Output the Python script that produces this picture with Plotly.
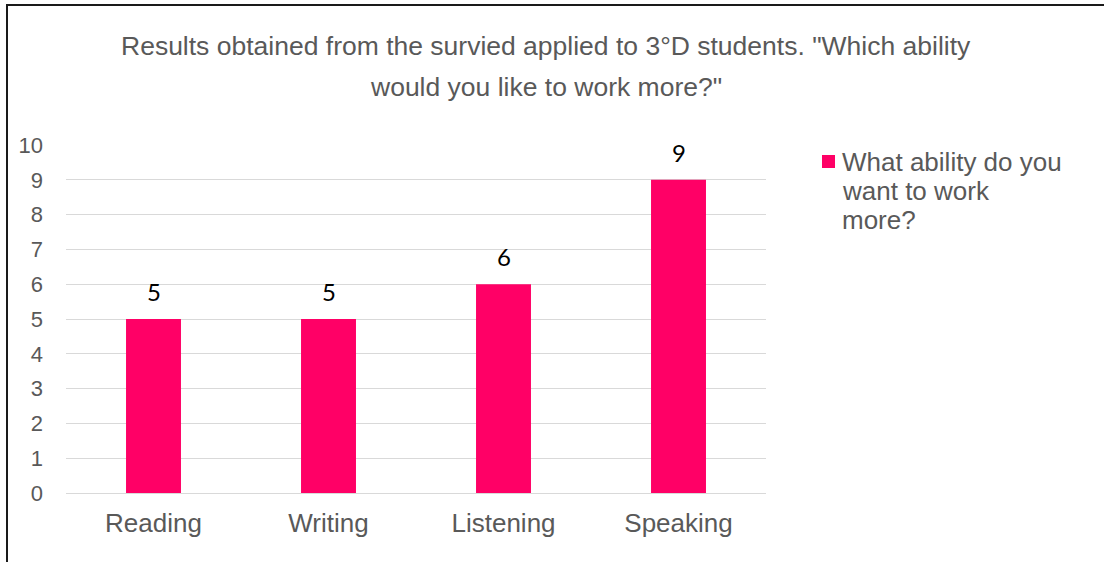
import plotly.graph_objects as go

# Survey results: which ability students would like to work on more
abilities = ["Reading", "Writing", "Listening", "Speaking"]
votes = [5, 5, 6, 9]
y_ticks = list(range(0, 11))
series_name = "What ability do you want to work more?"
legend_lines = ["What ability do you", "want to work", "more?"]
title_lines = [
    "Results obtained from the survied applied to 3°D students. \"Which ability",
    "would you like to work more?\"",
]

W, H = 1104, 562
L, R, T, B = 66, 338, 145, 69
PW, PH = W - L - R, H - T - B

def px_x(px):
    return (px - L) / PW

def px_y(py):
    return 1 - (py - T) / PH

GRAY = "#595959"
PINK = "#FF0066"
FONT = "Liberation Sans, Arial, sans-serif"

fig = go.Figure()
fig.add_trace(go.Bar(
    x=abilities, y=votes, name=series_name,
    marker=dict(color=PINK, line=dict(width=0)),
    showlegend=False,
))

# value labels above each bar
for cat, v in zip(abilities, votes):
    fig.add_annotation(
        x=cat, y=v, xref="x", yref="y", text=str(v), showarrow=False,
        yanchor="bottom", yshift=11,
        font=dict(family="Lato, Liberation Sans, sans-serif", size=24, color="#000000"),
    )

# two-line chart title, centred
for line, cy in zip(title_lines, [46, 87]):
    fig.add_annotation(
        x=px_x(546), y=px_y(cy), xref="paper", yref="paper", showarrow=False,
        text=line, xanchor="center", yanchor="middle",
        font=dict(family=FONT, size=26.5, color=GRAY),
    )

# legend: swatch plus wrapped series name
fig.add_shape(
    type="rect", xref="paper", yref="paper",
    x0=px_x(822), x1=px_x(835), y0=px_y(168), y1=px_y(155),
    fillcolor=PINK, line=dict(width=0),
)
for line, cy in zip(legend_lines, [162, 191, 220]):
    fig.add_annotation(
        x=px_x(840), y=px_y(cy), xref="paper", yref="paper", showarrow=False,
        text=line, xanchor="left", yanchor="middle",
        font=dict(family=FONT, size=26, color=GRAY),
    )

# outer frame (left and top edges)
fig.add_shape(
    type="path", xref="paper", yref="paper",
    path=f"M {px_x(7)},{px_y(H + 5)} L {px_x(7)},{px_y(5)} L {px_x(W + 5)},{px_y(5)}",
    line=dict(color="#1a1a1a", width=2),
)

fig.update_layout(
    width=W, height=H,
    margin=dict(l=L, r=R, t=T, b=B, autoexpand=False),
    paper_bgcolor="white", plot_bgcolor="white",
    bargap=0.686,
    showlegend=False,
    font=dict(family=FONT, color=GRAY),
    xaxis=dict(
        showgrid=False, showline=False, zeroline=False,
        tickfont=dict(family=FONT, size=26, color=GRAY),
        ticks="", ticklabelstandoff=12,
    ),
    yaxis=dict(
        range=[0, 10], tickvals=y_ticks, ticktext=[str(t) for t in y_ticks],
        showgrid=True, gridcolor="#D9D9D9", gridwidth=1,
        zeroline=True, zerolinecolor="#D9D9D9", zerolinewidth=1,
        showline=False, ticks="",
        tickfont=dict(family=FONT, size=22, color=GRAY),
        ticklabelstandoff=22,
    ),
)

fig.write_html("out.html")
